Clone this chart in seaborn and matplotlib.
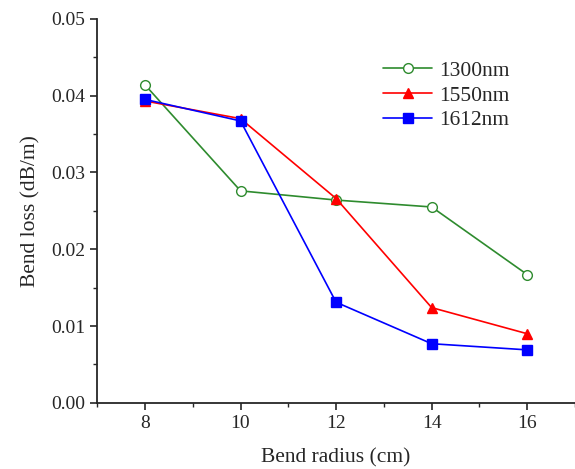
import pandas as pd
import matplotlib
matplotlib.use('Agg')
import matplotlib.pyplot as plt
import seaborn as sns
from matplotlib.ticker import MultipleLocator, FormatStrFormatter

# Data
radius = [8, 10, 12, 14, 16]
loss_1300 = [0.0414, 0.0276, 0.0264, 0.0255, 0.0167]
loss_1550 = [0.0393, 0.0370, 0.0266, 0.0124, 0.0090]
loss_1612 = [0.0395, 0.0367, 0.0131, 0.0077, 0.0069]

sns.set_style('ticks')
plt.rcParams['font.family'] = ['Liberation Serif', 'DejaVu Serif']

fig = plt.figure(figsize=(5.75, 4.69), dpi=100)
ax = fig.add_axes([0.169, 0.141, 0.831, 0.819])

series = [
    ('1300nm', loss_1300, '#2e8b2e', 'o', 'white'),
    ('1550nm', loss_1550, '#ff0000', '^', '#ff0000'),
    ('1612nm', loss_1612, '#0000ff', 's', '#0000ff'),
]
for name, vals, col, mk, face in series:
    df = pd.DataFrame({'radius': radius, 'loss': vals})
    sns.lineplot(data=df, x='radius', y='loss', ax=ax, color=col, marker=mk,
                 markerfacecolor=face, markeredgecolor=col, markersize=7,
                 markeredgewidth=1.0, linewidth=1.2, label=name)

ax.set_xlim(7, 17)
ax.set_ylim(0, 0.05)
ax.xaxis.set_major_locator(MultipleLocator(2))
ax.xaxis.set_minor_locator(MultipleLocator(1))
ax.yaxis.set_major_locator(MultipleLocator(0.01))
ax.yaxis.set_minor_locator(MultipleLocator(0.005))
ax.yaxis.set_major_formatter(FormatStrFormatter('%.2f'))
ax.tick_params(which='major', direction='out', length=5, width=1.2, labelsize=14)
ax.tick_params(which='minor', direction='out', length=3, width=1.0)
for s in ['top', 'right']:
    ax.spines[s].set_visible(False)
for s in ['left', 'bottom']:
    ax.spines[s].set_linewidth(1.3)

ax.set_xlabel('Bend radius (cm)', fontsize=15.5, labelpad=12)
ax.set_ylabel('Bend loss (dB/m)', fontsize=15.5, labelpad=8)

ax.legend(loc='upper left', bbox_to_anchor=(0.598, 0.891), frameon=False,
          fontsize=15.5, handlelength=2.3, handletextpad=0.3,
          labelspacing=0.22, borderpad=0, borderaxespad=0)

fig.savefig('out.png', dpi=100)
